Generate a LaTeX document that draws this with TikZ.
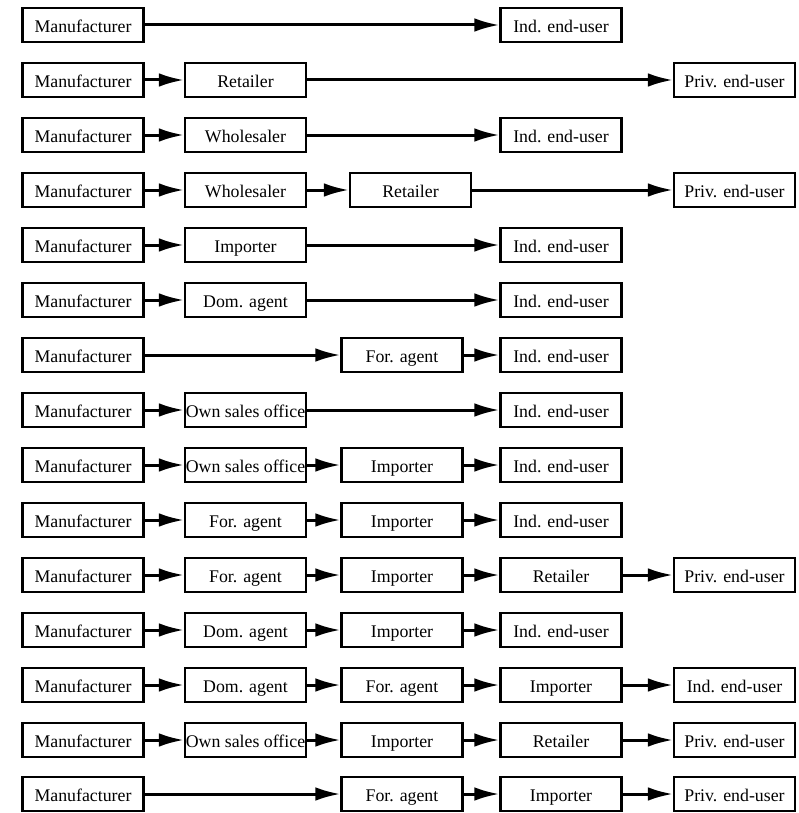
\documentclass[tikz,border=0pt]{standalone}
\usepackage{fontspec}
\setmainfont{Liberation Serif}
\usetikzlibrary{arrows.meta}

% column centres (in pixels of the original drawing)
\def\colA{83}
\def\colB{245.5}
\def\colC{402}
\def\colD{561}
\def\colE{734.5}

\tikzset{
    box/.style={draw, line width=1.1pt, minimum width=60.5pt, minimum height=17pt,
        inner sep=0pt, text height=8pt, text depth=0.4pt,
        font=\fontsize{8.9}{10}\selectfont},
    flow/.style={-{Latex[length=12.5pt,width=6.8pt]}, line width=1.5pt}
}

\begin{document}
\begin{tikzpicture}[x=0.5pt,y=-0.5pt]
        \useasboundingbox (0,0) rectangle (798,813);

        % row 1
        \node[box] (m1) at (\colA,25) {Manufacturer};
        \node[box] (e1) at (\colD,25) {Ind. end-user};
        \draw[flow] (m1) -- (e1);

        % row 2
        \node[box] (m2) at (\colA,80) {Manufacturer};
        \node[box] (r2) at (\colB,80) {Retailer};
        \node[box] (e2) at (\colE,80) {Priv. end-user};
        \draw[flow] (m2) -- (r2);
        \draw[flow] (r2) -- (e2);

        % row 3
        \node[box] (m3) at (\colA,135) {Manufacturer};
        \node[box] (w3) at (\colB,135) {Wholesaler};
        \node[box] (e3) at (\colD,135) {Ind. end-user};
        \draw[flow] (m3) -- (w3);
        \draw[flow] (w3) -- (e3);

        % row 4
        \node[box] (m4) at (\colA,190) {Manufacturer};
        \node[box] (w4) at (\colB,190) {Wholesaler};
        \node[box] (r4) at (410.5,190) {Retailer};
        \node[box] (e4) at (\colE,190) {Priv. end-user};
        \draw[flow] (m4) -- (w4);
        \draw[flow] (w4) -- (r4);
        \draw[flow] (r4) -- (e4);

        % row 5
        \node[box] (m5) at (\colA,245) {Manufacturer};
        \node[box] (i5) at (\colB,245) {Importer};
        \node[box] (e5) at (\colD,245) {Ind. end-user};
        \draw[flow] (m5) -- (i5);
        \draw[flow] (i5) -- (e5);

        % row 6
        \node[box] (m6) at (\colA,300) {Manufacturer};
        \node[box] (d6) at (\colB,300) {Dom. agent};
        \node[box] (e6) at (\colD,300) {Ind. end-user};
        \draw[flow] (m6) -- (d6);
        \draw[flow] (d6) -- (e6);

        % row 7
        \node[box] (m7) at (\colA,355) {Manufacturer};
        \node[box] (f7) at (\colC,355) {For. agent};
        \node[box] (e7) at (\colD,355) {Ind. end-user};
        \draw[flow] (m7) -- (f7);
        \draw[flow] (f7) -- (e7);

        % row 8
        \node[box] (m8) at (\colA,410) {Manufacturer};
        \node[box] (o8) at (\colB,410) {Own sales office};
        \node[box] (e8) at (\colD,410) {Ind. end-user};
        \draw[flow] (m8) -- (o8);
        \draw[flow] (o8) -- (e8);

        % row 9
        \node[box] (m9) at (\colA,465) {Manufacturer};
        \node[box] (o9) at (\colB,465) {Own sales office};
        \node[box] (i9) at (\colC,465) {Importer};
        \node[box] (e9) at (\colD,465) {Ind. end-user};
        \draw[flow] (m9) -- (o9);
        \draw[flow] (o9) -- (i9);
        \draw[flow] (i9) -- (e9);

        % row 10
        \node[box] (m10) at (\colA,520) {Manufacturer};
        \node[box] (f10) at (\colB,520) {For. agent};
        \node[box] (i10) at (\colC,520) {Importer};
        \node[box] (e10) at (\colD,520) {Ind. end-user};
        \draw[flow] (m10) -- (f10);
        \draw[flow] (f10) -- (i10);
        \draw[flow] (i10) -- (e10);

        % row 11
        \node[box] (m11) at (\colA,575) {Manufacturer};
        \node[box] (f11) at (\colB,575) {For. agent};
        \node[box] (i11) at (\colC,575) {Importer};
        \node[box] (r11) at (\colD,575) {Retailer};
        \node[box] (e11) at (\colE,575) {Priv. end-user};
        \draw[flow] (m11) -- (f11);
        \draw[flow] (f11) -- (i11);
        \draw[flow] (i11) -- (r11);
        \draw[flow] (r11) -- (e11);

        % row 12
        \node[box] (m12) at (\colA,630) {Manufacturer};
        \node[box] (d12) at (\colB,630) {Dom. agent};
        \node[box] (i12) at (\colC,630) {Importer};
        \node[box] (e12) at (\colD,630) {Ind. end-user};
        \draw[flow] (m12) -- (d12);
        \draw[flow] (d12) -- (i12);
        \draw[flow] (i12) -- (e12);

        % row 13
        \node[box] (m13) at (\colA,685) {Manufacturer};
        \node[box] (d13) at (\colB,685) {Dom. agent};
        \node[box] (f13) at (\colC,685) {For. agent};
        \node[box] (i13) at (\colD,685) {Importer};
        \node[box] (e13) at (\colE,685) {Ind. end-user};
        \draw[flow] (m13) -- (d13);
        \draw[flow] (d13) -- (f13);
        \draw[flow] (f13) -- (i13);
        \draw[flow] (i13) -- (e13);

        % row 14
        \node[box] (m14) at (\colA,740) {Manufacturer};
        \node[box] (o14) at (\colB,740) {Own sales office};
        \node[box] (i14) at (\colC,740) {Importer};
        \node[box] (r14) at (\colD,740) {Retailer};
        \node[box] (e14) at (\colE,740) {Priv. end-user};
        \draw[flow] (m14) -- (o14);
        \draw[flow] (o14) -- (i14);
        \draw[flow] (i14) -- (r14);
        \draw[flow] (r14) -- (e14);

        % row 15
        \node[box] (m15) at (\colA,794) {Manufacturer};
        \node[box] (f15) at (\colC,794) {For. agent};
        \node[box] (i15) at (\colD,794) {Importer};
        \node[box] (e15) at (\colE,794) {Priv. end-user};
        \draw[flow] (m15) -- (f15);
        \draw[flow] (f15) -- (i15);
        \draw[flow] (i15) -- (e15);
    \end{tikzpicture}
\end{document}
